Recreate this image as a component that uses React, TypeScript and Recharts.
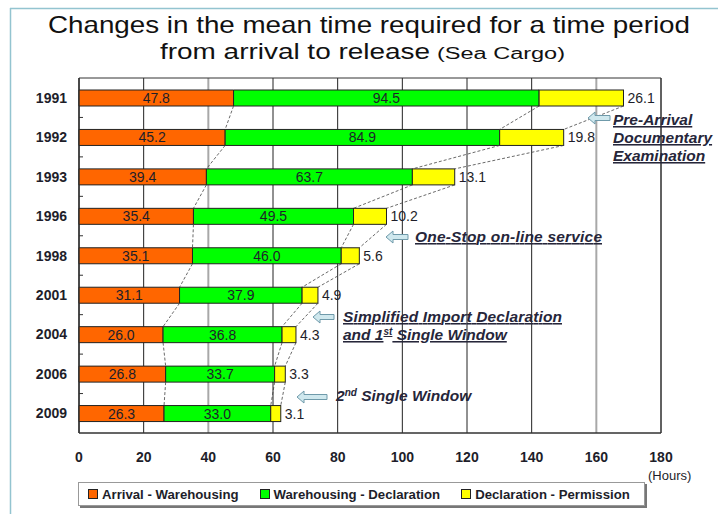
import React from 'react';
import { BarChart, Bar, XAxis, YAxis, CartesianGrid, LabelList, ReferenceArea } from 'recharts';

// Mean release time for sea cargo, hours per stage
const YEARS = ['1991', '1992', '1993', '1996', '1998', '2001', '2004', '2006', '2009'];
const ARRIVAL_WAREHOUSING = [47.8, 45.2, 39.4, 35.4, 35.1, 31.1, 26.0, 26.8, 26.3];
const WAREHOUSING_DECLARATION = [94.5, 84.9, 63.7, 49.5, 46.0, 37.9, 36.8, 33.7, 33.0];
const DECLARATION_PERMISSION = [26.1, 19.8, 13.1, 10.2, 5.6, 4.9, 4.3, 3.3, 3.1];
const X_TICKS = [0, 20, 40, 60, 80, 100, 120, 140, 160, 180];

const SERIES = [
  { key: 'arrival', name: 'Arrival - Warehousing', color: '#ff6600' },
  { key: 'warehousing', name: 'Warehousing - Declaration', color: '#00ff00' },
  { key: 'permission', name: 'Declaration - Permission', color: '#ffff00' },
];

const data = YEARS.map((year, i) => ({
  year,
  arrival: ARRIVAL_WAREHOUSING[i],
  warehousing: WAREHOUSING_DECLARATION[i],
  permission: DECLARATION_PERMISSION[i],
}));

const W = 718;
const H = 514;
const MARGIN = { top: 78, right: 57, left: 0, bottom: 51 };
const X_AXIS_H = 30;
const Y_AXIS_W = 79;
const STEP = (H - MARGIN.top - MARGIN.bottom - X_AXIS_H) / YEARS.length;
const FONT = '"Liberation Sans", Arial, sans-serif';
const TEXT = '#1e1e2a';

// geometry of each row, filled in while the last series draws
const rowGeom: { x0: number; ppu: number; top: number; bottom: number }[] = [];

const bounds = (i: number) => {
  const a = ARRIVAL_WAREHOUSING[i];
  const b = a + WAREHOUSING_DECLARATION[i];
  return [a, b, b + DECLARATION_PERMISSION[i]];
};

function PermissionShape(props: any) {
  const { x, y, width, height, fill, payload } = props;
  const i = YEARS.indexOf(payload.year);
  const start = payload.arrival + payload.warehousing;
  const ppu = width / payload.permission;
  const x0 = x - start * ppu;
  rowGeom[i] = { x0, ppu, top: y, bottom: y + height };
  const prev = i > 0 ? rowGeom[i - 1] : undefined;
  return (
    <g>
      <rect x={x} y={y} width={width} height={height} fill={fill} stroke="#222" strokeWidth={1} />
      {prev &&
        bounds(i).map((v, k) => (
          <line
            key={k}
            x1={prev.x0 + bounds(i - 1)[k] * prev.ppu}
            y1={prev.bottom}
            x2={x0 + v * ppu}
            y2={y}
            stroke="#444"
            strokeWidth={0.8}
            strokeDasharray="3 2"
          />
        ))}
    </g>
  );
}

const YTick = (props: any) => {
  const { x, y, payload, index } = props;
  return (
    <g>
      <text x={x} y={y} textAnchor="end" dominantBaseline="central" fontFamily={FONT} fontSize={14} fontWeight="bold" fill={TEXT}>
        {payload.value}
      </text>
      {index < YEARS.length - 1 && (
        <line x1={Y_AXIS_W} x2={Y_AXIS_W + 4} y1={y + STEP / 2} y2={y + STEP / 2} stroke="#333" />
      )}
    </g>
  );
};

const XTick = (props: any) => {
  const { x, y, payload } = props;
  return (
    <text x={x} y={y} dy="0.71em" textAnchor="middle" fontFamily={FONT} fontSize={14} fontWeight="bold" fill={TEXT}>
      {payload.value}
    </text>
  );
};

const GridLine = (props: any) => {
  const { x1, y1, x2, y2, index } = props;
  const soft = index === 2 || index === 8;
  return (
    <line
      key={`v-${index}`}
      x1={x1}
      y1={y1}
      x2={x2}
      y2={y2}
      stroke={soft ? '#a8a8a8' : '#222'}
      strokeWidth={soft ? 2 : 1}
    />
  );
};

const fmt = (v: any) => Number(v).toFixed(1);

const Arrow = ({ x, y, w }: { x: number; y: number; w: number }) => (
  <path
    d={`M${x},${y} l7,-6 v3.5 h${w - 7} v5 h-${w - 7} v3.5 z`}
    fill="#cfe8ee"
    stroke="#6f9aaa"
    strokeWidth={1}
  />
);

const noteStyle = {
  fontFamily: FONT,
  fontSize: 15.5,
  fontWeight: 'bold' as const,
  fontStyle: 'italic' as const,
  fill: '#26263a',
};

export default function App() {
  return (
    <div style={{ position: 'absolute', left: 0, top: 0, width: W, height: H, background: '#fff', overflow: 'hidden' }}>
      <BarChart width={W} height={H} data={data} layout="vertical" margin={MARGIN} barSize={16}>
        <CartesianGrid horizontal={false} vertical={GridLine} />
        <XAxis
          type="number"
          domain={[0, 180]}
          ticks={X_TICKS}
          height={X_AXIS_H}
          tickSize={0}
          tickMargin={19}
          tick={<XTick />}
          axisLine={{ stroke: '#333' }}
        />
        <YAxis
          type="category"
          dataKey="year"
          width={Y_AXIS_W}
          tickSize={0}
          tickMargin={12}
          tick={<YTick />}
          axisLine={{ stroke: '#333' }}
        />
        <ReferenceArea x1={0} x2={180} fill="none" stroke="#333" strokeWidth={1} />
        <Bar dataKey="arrival" stackId="t" fill={SERIES[0].color} stroke="#222" strokeWidth={1} isAnimationActive={false}>
          <LabelList dataKey="arrival" position="center" formatter={fmt} fill={TEXT} fontSize={14} fontFamily={FONT} />
        </Bar>
        <Bar dataKey="warehousing" stackId="t" fill={SERIES[1].color} stroke="#222" strokeWidth={1} isAnimationActive={false}>
          <LabelList dataKey="warehousing" position="center" formatter={fmt} fill={TEXT} fontSize={14} fontFamily={FONT} />
        </Bar>
        <Bar dataKey="permission" stackId="t" fill={SERIES[2].color} shape={<PermissionShape />} isAnimationActive={false}>
          <LabelList dataKey="permission" position="right" offset={4} formatter={fmt} fill={TEXT} fontSize={14} fontFamily={FONT} />
        </Bar>
      </BarChart>

      <svg width={W} height={H} style={{ position: 'absolute', left: 0, top: 0, pointerEvents: 'none' }}>
        <line x1={10} y1={8.5} x2={W} y2={8.5} stroke="#93c4d0" strokeWidth={1.5} />
        <line x1={10.5} y1={8} x2={10.5} y2={H} stroke="#93c4d0" strokeWidth={1.5} />

        <text x={48} y={33} fontFamily={FONT} fontSize={24} fill="#111" textLength={642} lengthAdjust="spacingAndGlyphs">
          Changes in the mean time required for a time period
        </text>
        <text x={160} y={59} fontFamily={FONT} fontSize={22} fill="#111" textLength={270} lengthAdjust="spacingAndGlyphs">
          from arrival to release
        </text>
        <text x={437} y={59} fontFamily={FONT} fontSize={16} fill="#111" textLength={128} lengthAdjust="spacingAndGlyphs">
          (Sea Cargo)
        </text>

        <text x={648} y={480} fontFamily={FONT} fontSize={13} fill={TEXT}>(Hours)</text>

        <Arrow x={588} y={118} w={22} />
        <text x={613} y={125} {...noteStyle} textDecoration="underline">Pre-Arrival</text>
        <text x={613} y={143} {...noteStyle} textDecoration="underline">Documentary</text>
        <text x={613} y={161} {...noteStyle} textDecoration="underline">Examination</text>

        <Arrow x={386} y={237} w={22} />
        <text x={415} y={242} {...noteStyle} textDecoration="underline" textLength={187}>One-Stop on-line service</text>

        <Arrow x={313} y={317} w={21} />
        <text x={343} y={322} {...noteStyle} textDecoration="underline" textLength={219}>Simplified Import Declaration</text>
        <text x={343} y={340} {...noteStyle} textDecoration="underline">
          and 1<tspan fontSize={10} dy={-5}>st</tspan><tspan dy={5}> Single Window</tspan>
        </text>

        <Arrow x={297} y={397} w={30} />
        <text x={336} y={401} {...noteStyle}>
          2<tspan fontSize={10} dy={-5}>nd</tspan><tspan dy={5}> Single Window</tspan>
        </text>
      </svg>

      <div
        style={{
          position: 'absolute',
          left: 78,
          top: 482,
          width: 556,
          height: 22,
          border: '1px solid #999',
          boxShadow: '2px 2px 0 #777',
          display: 'flex',
          alignItems: 'center',
          paddingLeft: 9,
          gap: 21,
          boxSizing: 'content-box',
          fontFamily: FONT,
          fontSize: 13.2,
          fontWeight: 'bold',
          color: TEXT,
        }}
      >
        {SERIES.map((s) => (
          <div key={s.key} style={{ display: 'flex', alignItems: 'center', whiteSpace: 'nowrap' }}>
            <span style={{ width: 8, height: 8, background: s.color, border: '1px solid #222', marginRight: 4 }} />
            {s.name}
          </div>
        ))}
      </div>
    </div>
  );
}
